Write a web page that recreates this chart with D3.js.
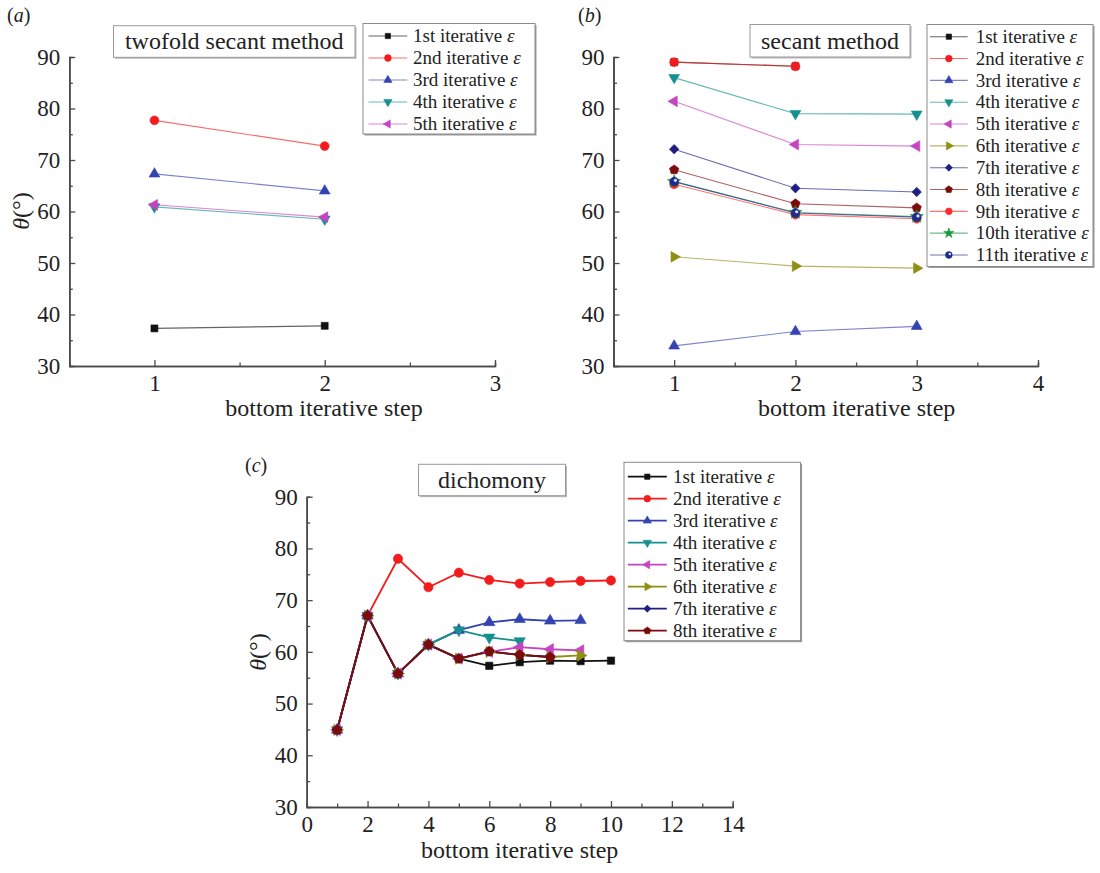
<!DOCTYPE html>
<html>
<head>
<meta charset="utf-8">
<script src="https://cdn.jsdelivr.net/npm/d3@7"></script>
<style>
  html, body { margin: 0; padding: 0; background: #fff; }
  svg text { font-family: "Liberation Serif", "Times New Roman", serif; fill: #222; }
</style>
</head>
<body>
<svg id="chart" width="1100" height="873"></svg>
<script>
// ---- data: contact angle theta (deg) per bottom iterative step ----
const seriesLabels = [
  "1st iterative", "2nd iterative", "3rd iterative", "4th iterative",
  "5th iterative", "6th iterative", "7th iterative", "8th iterative",
  "9th iterative", "10th iterative", "11th iterative"
];

const yTicks = [30, 40, 50, 60, 70, 80, 90];
const yMinorTicks = [35, 45, 55, 65, 75, 85];

// (a) twofold secant method
const twofoldTitle = "twofold secant method";
const twofoldSteps = [1, 2];
const twofoldTicks = [1, 2, 3];
const twofoldMinorTicks = [1.5, 2.5];
const twofoldTheta = [
  [37.3, 37.8],
  [77.7, 72.7],
  [67.3, 64.0],
  [60.9, 58.5],
  [61.3, 58.9]
];

// (b) secant method
const secantTitle = "secant method";
const secantSteps = [1, 2, 3];
const secantTicks = [1, 2, 3, 4];
const secantMinorTicks = [1.5, 2.5, 3.5];
const secantTheta = [
  [89.0, 88.2],
  [89.0, 88.2],
  [33.9, 36.7, 37.7],
  [86.0, 79.0, 78.9],
  [81.4, 73.0, 72.7],
  [51.2, 49.4, 49.0],
  [72.1, 64.5, 63.8],
  [68.1, 61.5, 60.7],
  [65.3, 59.4, 58.6],
  [65.8, 59.8, 59.0],
  [65.8, 59.7, 58.9]
];

// (c) dichotomy
const dichoTitle = "dichomony";
const dichoSteps = [1, 2, 3, 4, 5, 6, 7, 8, 9, 10];
const dichoTicks = [0, 2, 4, 6, 8, 10, 12, 14];
const dichoMinorTicks = [1, 3, 5, 7, 9, 11, 13];
const dichoTheta = [
  [44.9, 67.0, 55.8, 61.4, 58.7, 57.3, 58.0, 58.3, 58.2, 58.3],
  [44.9, 67.0, 78.0, 72.5, 75.3, 73.9, 73.2, 73.5, 73.7, 73.8],
  [44.9, 67.0, 55.8, 61.4, 64.2, 65.7, 66.3, 66.0, 66.1],
  [44.9, 67.0, 55.8, 61.4, 64.2, 62.8, 62.1],
  [44.9, 67.0, 55.8, 61.4, 58.7, 60.0, 60.9, 60.5, 60.3],
  [44.9, 67.0, 55.8, 61.4, 58.7, 60.0, 59.4, 59.0, 59.3],
  [44.9, 67.0, 55.8, 61.4, 58.7, 60.1, 59.4, 59.0],
  [44.9, 67.0, 55.8, 61.4, 58.7, 60.1, 59.4, 59.0]
];

// ---- series styles ----
const seriesColors = [
  "#111111", "#f21c1c", "#3443b2", "#16908f", "#c444c2", "#8f8f12",
  "#1e1e84", "#7c0c0c", "#ff2a2a", "#1a9a3a", "#1d2d8c"
];
const seriesShapes = [
  "square", "circle", "up", "down", "left", "right",
  "diamond", "pentagon", "circle", "star", "sphere"
];

const symbolPentagon = {
  draw(ctx, size) {
    const r = Math.sqrt(size / 2.378);
    for (let i = 0; i < 5; i++) {
      const a = -Math.PI / 2 + i * 2 * Math.PI / 5;
      const px = r * Math.cos(a), py = r * Math.sin(a);
      if (i === 0) ctx.moveTo(px, py); else ctx.lineTo(px, py);
    }
    ctx.closePath();
  }
};

function drawMarker(g, shape, cx, cy, color, scale) {
  const s = scale || 1;
  const spec = {
    square:   [d3.symbolSquare, 44, 0],
    circle:   [d3.symbolCircle, 56, 0],
    sphere:   [d3.symbolCircle, 56, 0],
    up:       [d3.symbolTriangle, 46, 0],
    down:     [d3.symbolTriangle, 46, 180],
    left:     [d3.symbolTriangle, 46, -90],
    right:    [d3.symbolTriangle, 46, 90],
    diamond:  [d3.symbolSquare, 40, 45],
    pentagon: [symbolPentagon, 52, 0],
    star:     [d3.symbolStar, 50, 0]
  }[shape];
  g.append("path")
    .attr("d", d3.symbol().type(spec[0]).size(spec[1] * s * s)())
    .attr("transform", `translate(${cx},${cy}) rotate(${spec[2]})`)
    .attr("fill", color)
    .attr("stroke", color)
    .attr("stroke-width", 0.6);
  if (shape === "sphere") {
    g.append("circle")
      .attr("cx", cx + 1.2 * s).attr("cy", cy - 1.2 * s)
      .attr("r", 1.5 * s)
      .attr("fill", "#dfe4ff");
  }
}

const svg = d3.select("#chart");

function drawPanel(cfg) {
  const g = svg.append("g");
  const x = d3.scaleLinear().domain(cfg.xDomain).range([cfg.left, cfg.right]);
  const y = d3.scaleLinear().domain([30, 90]).range([cfg.bottom, cfg.top]);

  // axes: inward ticks, no frame on top/right
  const axisStyle = sel => {
    sel.select(".domain").attr("stroke", "#4a4a4a").attr("stroke-width", 1.6);
    sel.selectAll(".tick line").attr("stroke", "#4a4a4a").attr("stroke-width", 1.3);
    sel.selectAll(".tick text").attr("font-size", 23).attr("fill", "#222")
      .attr("font-family", "'Liberation Serif', serif");
  };
  g.append("g").attr("transform", `translate(0,${cfg.bottom})`)
    .call(d3.axisBottom(x).tickValues(cfg.xMinor).tickSize(-3.5).tickFormat(""))
    .call(axisStyle);
  g.append("g").attr("transform", `translate(${cfg.left},0)`)
    .call(d3.axisLeft(y).tickValues(yMinorTicks).tickSize(-3.5).tickFormat(""))
    .call(axisStyle);
  g.append("g").attr("transform", `translate(0,${cfg.bottom})`)
    .call(d3.axisBottom(x).tickValues(cfg.xTicks).tickSize(-6).tickSizeOuter(0).tickPadding(9).tickFormat(d3.format("d")))
    .call(axisStyle);
  g.append("g").attr("transform", `translate(${cfg.left},0)`)
    .call(d3.axisLeft(y).tickValues(yTicks).tickSize(-6).tickSizeOuter(0).tickPadding(9).tickFormat(d3.format("d")))
    .call(axisStyle);

  // axis titles
  g.append("text")
    .attr("x", cfg.xLabelX).attr("y", cfg.xLabelY)
    .attr("text-anchor", "middle").attr("font-size", 24)
    .text("bottom iterative step");
  if (cfg.yLabel) {
    const t = g.append("text")
      .attr("transform", `translate(${cfg.yLabel[0]},${cfg.yLabel[1]}) rotate(-90)`)
      .attr("text-anchor", "middle").attr("dy", "0.33em").attr("font-size", 24);
    t.append("tspan").attr("font-style", "italic").text("\u03B8");
    t.append("tspan").text("(\u00B0)");
  }

  // panel tag
  const tag = g.append("text").attr("x", cfg.tag[0]).attr("y", cfg.tag[1]).attr("font-size", 20);
  tag.append("tspan").text("(");
  tag.append("tspan").attr("font-style", "italic").text(cfg.tagLetter);
  tag.append("tspan").text(")");

  // method title box
  const tb = cfg.titleBox;
  g.append("rect").attr("x", tb.x + 1.5).attr("y", tb.y + 1.5).attr("width", tb.w).attr("height", tb.h)
    .attr("fill", "#b8b8b8");
  g.append("rect").attr("x", tb.x).attr("y", tb.y).attr("width", tb.w).attr("height", tb.h)
    .attr("fill", "#fff").attr("stroke", "#9a9a9a").attr("stroke-width", 1);
  g.append("text").attr("x", tb.x + tb.w / 2).attr("y", tb.baseline)
    .attr("text-anchor", "middle").attr("font-size", 24).text(cfg.title);

  // series lines then markers
  const line = d3.line().x((d, i) => x(cfg.steps[i])).y(d => y(d));
  cfg.data.forEach((vals, k) => {
    g.append("path").datum(vals)
      .attr("d", line)
      .attr("fill", "none")
      .attr("stroke", seriesColors[k])
      .attr("stroke-opacity", cfg.lineOpacity)
      .attr("stroke-width", cfg.lineWidth);
  });
  cfg.data.forEach((vals, k) => {
    vals.forEach((v, i) => drawMarker(g, seriesShapes[k], x(cfg.steps[i]), y(v), seriesColors[k], cfg.markerScale));
  });

  // legend
  const lb = cfg.legend;
  const n = cfg.data.length;
  g.append("rect").attr("x", lb.x + 1.5).attr("y", lb.y + 1.5).attr("width", lb.w).attr("height", lb.h)
    .attr("fill", "#9c9c9c");
  g.append("rect").attr("x", lb.x).attr("y", lb.y).attr("width", lb.w).attr("height", lb.h)
    .attr("fill", "#fff").attr("stroke", "#8a8a8a").attr("stroke-width", 1);
  for (let k = 0; k < n; k++) {
    const ry = lb.row0 + k * lb.step;
    g.append("line").attr("x1", lb.line0).attr("x2", lb.line1).attr("y1", ry).attr("y2", ry)
      .attr("stroke", seriesColors[k]).attr("stroke-width", cfg.lineWidth)
      .attr("stroke-opacity", cfg.lineOpacity);
    drawMarker(g, seriesShapes[k], (lb.line0 + lb.line1) / 2, ry, seriesColors[k], 0.8);
    const t = g.append("text").attr("x", lb.textX).attr("y", ry).attr("dy", "0.33em").attr("font-size", 19);
    t.append("tspan").text(seriesLabels[k] + " ");
    t.append("tspan").attr("font-style", "italic").text("\u03B5");
  }
}

drawPanel({
  left: 69.3, right: 495, top: 57, bottom: 366,
  xDomain: [0.5, 3], xTicks: twofoldTicks, xMinor: twofoldMinorTicks,
  steps: twofoldSteps, data: twofoldTheta, title: twofoldTitle,
  titleBox: { x: 113.5, y: 25.7, w: 241.5, h: 31.6, baseline: 49 },
  legend: { x: 363, y: 23.5, w: 172, h: 110.5, row0: 36, step: 22, line0: 368.5, line1: 407.3, textX: 413 },
  xLabelX: 324, xLabelY: 416, yLabel: [21, 211], tag: [7, 22], tagLetter: "a",
  lineWidth: 1.1, lineOpacity: 0.65, markerScale: 1.05
});

drawPanel({
  left: 613.5, right: 1038, top: 57, bottom: 366,
  xDomain: [0.5, 4], xTicks: secantTicks, xMinor: secantMinorTicks,
  steps: secantSteps, data: secantTheta, title: secantTitle,
  titleBox: { x: 750, y: 24.5, w: 160, h: 32.5, baseline: 49 },
  legend: { x: 927, y: 24.5, w: 166, h: 242, row0: 36.7, step: 21.83, line0: 930, line1: 967.7, textX: 975.7 },
  xLabelX: 856.7, xLabelY: 416, yLabel: null, tag: [578, 22], tagLetter: "b",
  lineWidth: 1.1, lineOpacity: 0.65, markerScale: 1.05
});

drawPanel({
  left: 306.7, right: 732.7, top: 496.7, bottom: 807,
  xDomain: [0, 14], xTicks: dichoTicks, xMinor: dichoMinorTicks,
  steps: dichoSteps, data: dichoTheta, title: dichoTitle,
  titleBox: { x: 418.5, y: 464.3, w: 147, h: 31.4, baseline: 488 },
  legend: { x: 624, y: 462.3, w: 176.6, h: 178.4, row0: 476.7, step: 22, line0: 627.8, line1: 666.8, textX: 673 },
  xLabelX: 519.7, xLabelY: 858, yLabel: [258, 652], tag: [245, 472], tagLetter: "c",
  lineWidth: 1.8, lineOpacity: 1, markerScale: 1.1
});
</script>
</body>
</html>
